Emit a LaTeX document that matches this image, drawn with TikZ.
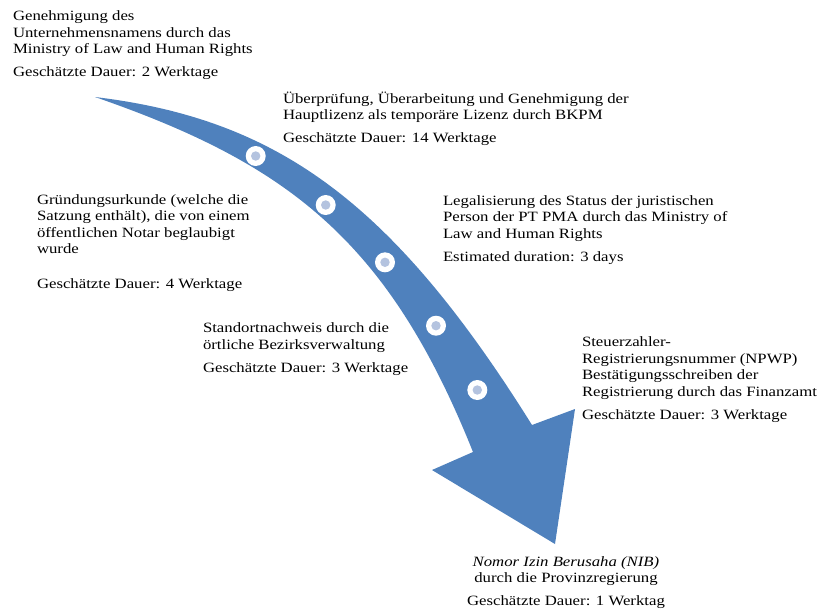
\documentclass[tikz,border=0pt]{standalone}
\usepackage{fontspec}
\setmainfont[FakeStretch=1.18]{Liberation Serif}
\definecolor{arrowblue}{HTML}{4F81BD}
\definecolor{dotblue}{HTML}{B4C3DF}
\newcommand\blockL[1]{\vtop{\baselineskip=16.5pt\lineskiplimit=-10pt\halign{##\hfil\cr#1\crcr}}}
\newcommand\blockC[1]{\vtop{\baselineskip=16.5pt\lineskiplimit=-10pt\halign{\hfil##\hfil\cr#1\crcr}}}
\begin{document}
\begin{tikzpicture}[x=1pt,y=-1pt,
  txt/.style={inner sep=0pt, outer sep=0pt, anchor=base west, font=\fontsize{14.2}{16.5}\selectfont},
  txtc/.style={inner sep=0pt, outer sep=0pt, anchor=base, font=\fontsize{14.2}{16.5}\selectfont},
  stepdot/.style={circle, fill=white, minimum size=20pt, inner sep=0pt,
    path picture={\fill[dotblue] (path picture bounding box.center) circle[radius=4.7pt];}}]
\useasboundingbox (0,0) rectangle (824,611);
% curved arrow
\fill[arrowblue] (95,97)
  .. controls (277,119) and (392,201) .. (532,425)
  -- (575,409) -- (555,544) -- (432,470) -- (473,452)
  .. controls (388,239.5) and (287,163.5) .. (95,97)
  -- cycle;
% dots
\node[stepdot] (d1) at (255.7,156) {};
\node[stepdot] (d2) at (325.7,205) {};
\node[stepdot] (d3) at (385,262.3) {};
\node[stepdot] (d4) at (436,325.7) {};
\node[stepdot] (d5) at (477.3,390) {};
% texts
\node[txt] (t1) at (13,20.7) {\blockL{Genehmigung des\cr Unternehmensnamens durch das\cr Ministry of Law and Human Rights\cr\noalign{\vskip6pt} Geschätzte Dauer: 2 Werktage}};
\node[txt] (t2) at (283,103) {\blockL{Überprüfung, Überarbeitung und Genehmigung der\cr Hauptlizenz als temporäre Lizenz durch BKPM\cr\noalign{\vskip6.5pt} Geschätzte Dauer: 14 Werktage}};
\node[txt] (t3) at (37,204) {\blockL{Gründungsurkunde (welche die\cr Satzung enthält), die von einem\cr öffentlichen Notar beglaubigt\cr wurde\cr\noalign{\vskip18.5pt} Geschätzte Dauer: 4 Werktage}};
\node[txt] (t4) at (443,205) {\blockL{Legalisierung des Status der juristischen\cr Person der PT PMA durch das Ministry of\cr Law and Human Rights\cr\noalign{\vskip6.5pt} Estimated duration: 3 days}};
\node[txt] (t5) at (203,332.7) {\blockL{Standortnachweis durch die\cr örtliche Bezirksverwaltung\cr\noalign{\vskip6.5pt} Geschätzte Dauer: 3 Werktage}};
\node[txt] (t6) at (582,346.7) {\blockL{Steuerzahler-\cr Registrierungsnummer (NPWP)\cr Bestätigungsschreiben der\cr Registrierung durch das Finanzamt\cr\noalign{\vskip6.5pt} Geschätzte Dauer: 3 Werktage}};
\node[txtc] (t7) at (566,566) {\blockC{\itshape Nomor Izin Berusaha (NIB)\cr durch die Provinzregierung\cr\noalign{\vskip6.5pt} Geschätzte Dauer: 1 Werktag}};
\end{tikzpicture}
\end{document}
